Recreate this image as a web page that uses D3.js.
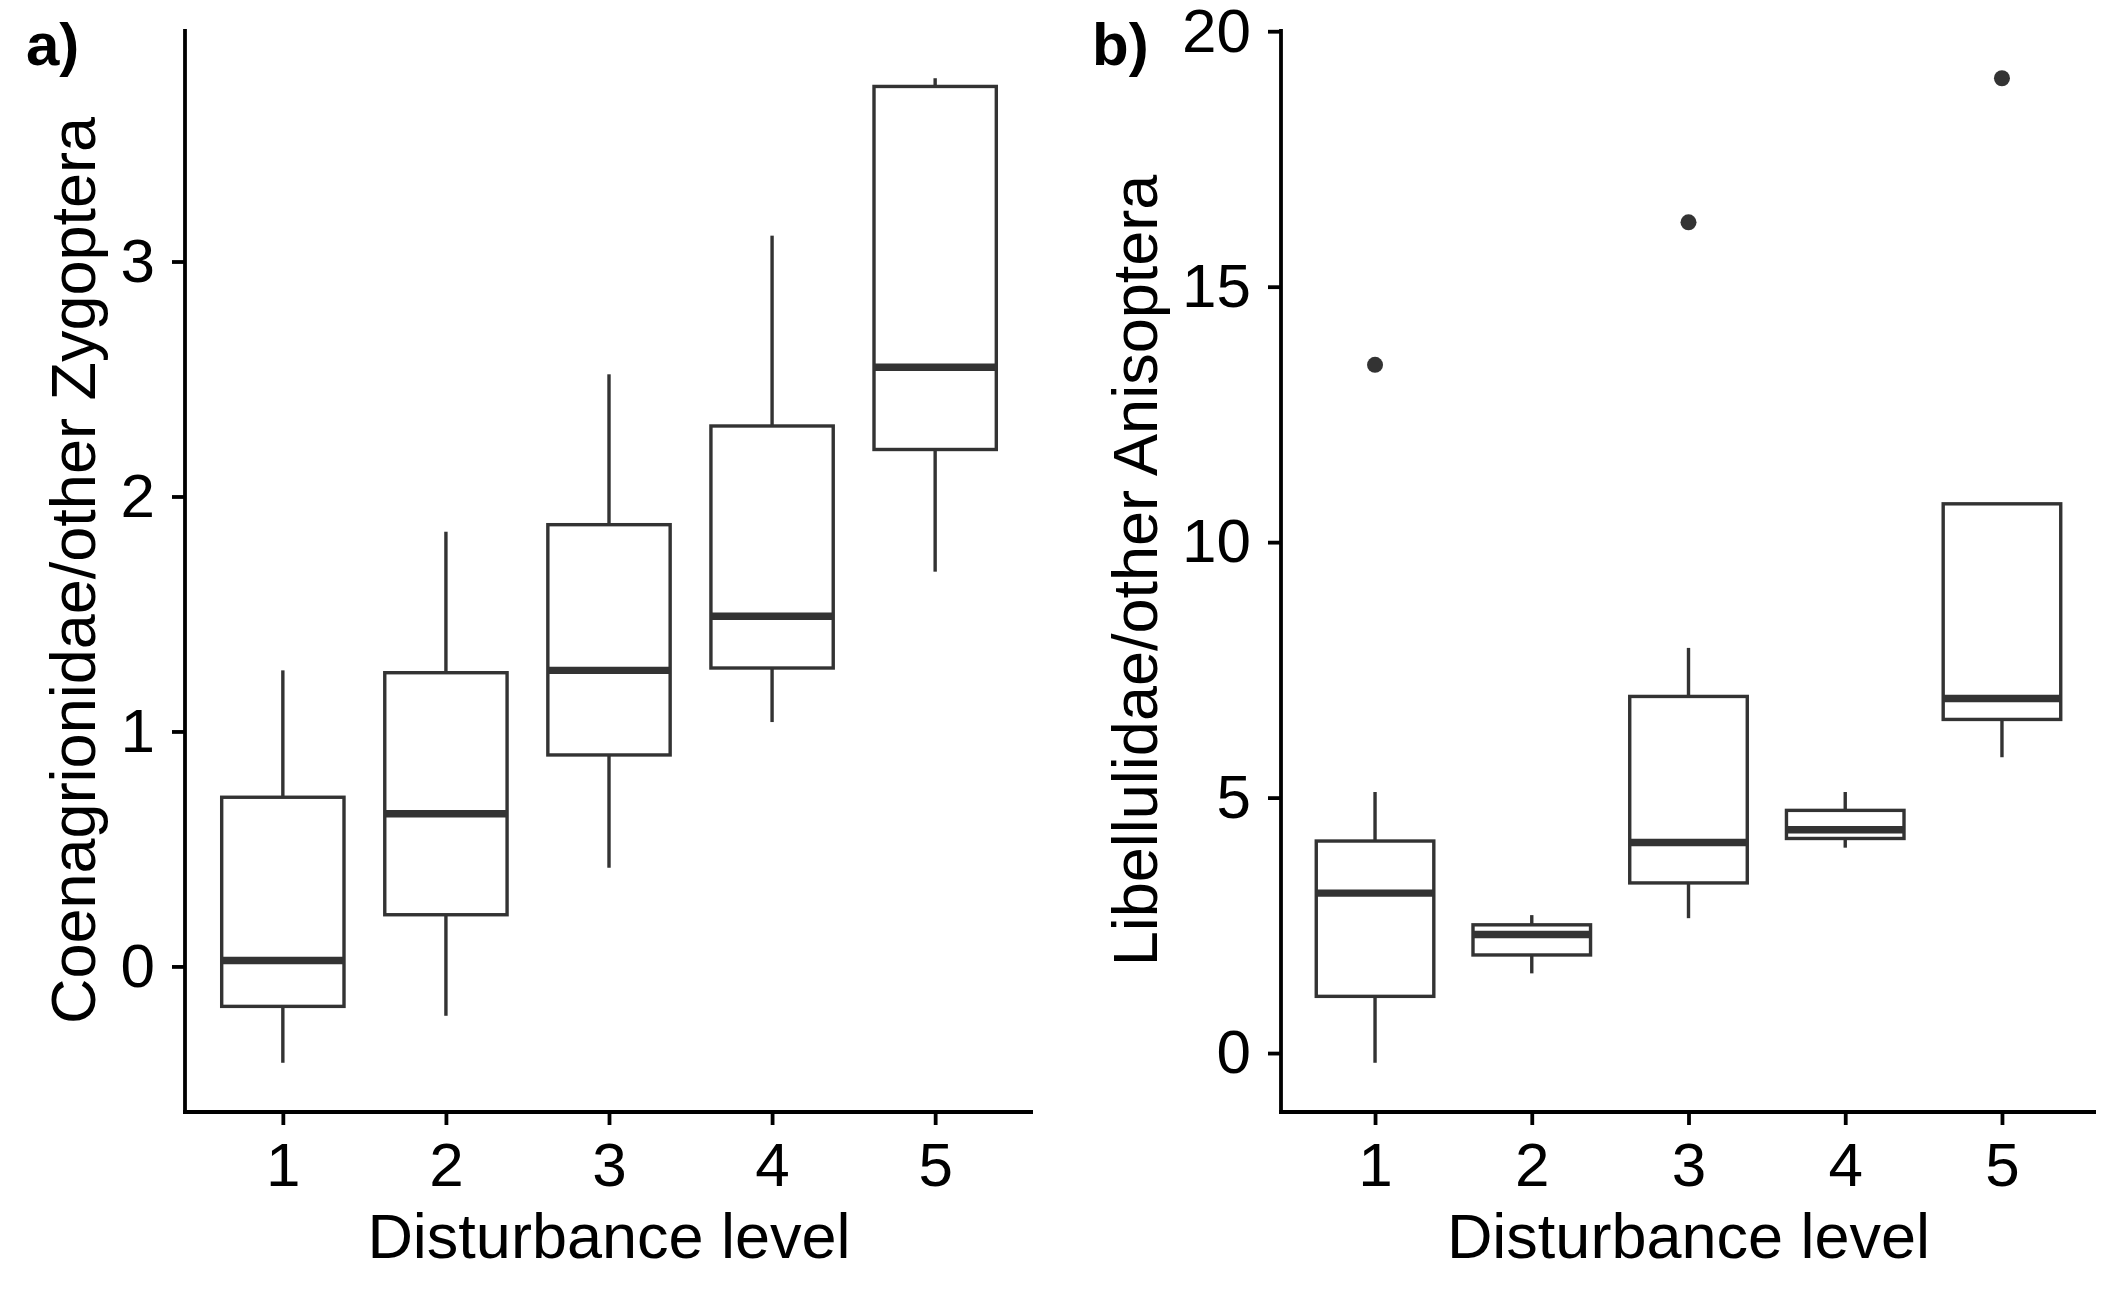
<!DOCTYPE html>
<html>
<head>
<meta charset="utf-8">
<script src="https://cdn.jsdelivr.net/npm/d3@7"></script>
<style>
  body { margin: 0; background: #fff; }
  text { font-family: "Liberation Sans", Arial, sans-serif; }
</style>
</head>
<body>
<svg id="chart" width="2125" height="1299"></svg>
<script>
// categories shared by both panels
const levels = ["1", "2", "3", "4", "5"];

// panel a) Coenagrionidae/other Zygoptera
const aLow    = [-0.41, -0.21, 0.42, 1.04, 1.68];
const aQ1     = [-0.17, 0.22, 0.90, 1.27, 2.20];
const aMedian = [0.025, 0.65, 1.26, 1.49, 2.55];
const aQ3     = [0.72, 1.25, 1.88, 2.30, 3.745];
const aHigh   = [1.26, 1.85, 2.52, 3.11, 3.78];
const aOut    = [];
const aTicks  = [0, 1, 2, 3];

// panel b) Libellulidae/other Anisoptera
const bLow    = [-0.19, 1.56, 2.64, 4.02, 5.79];
const bQ1     = [1.11, 1.92, 3.33, 4.20, 6.53];
const bMedian = [3.13, 2.32, 4.12, 4.37, 6.94];
const bQ3     = [4.15, 2.51, 6.98, 4.75, 10.75];
const bHigh   = [5.11, 2.70, 7.93, 5.11, 10.75];
const bOut    = [["1", 13.47], ["3", 16.26], ["5", 19.08]];
const bTicks  = [0, 5, 10, 15, 20];

const svg = d3.select('#chart');
svg.append('rect').attr('width', 2125).attr('height', 1299).attr('fill', '#fff');

const boxColour = '#333333';
const boxWidth = 3.4;   // outline and whiskers
const medWidth = 7.4;   // median bar (fattened)
const axisWidth = 3.8;

// draws one ggplot-style boxplot panel
const drawPanel = (p) => {
    const rows = levels.map((k, i) => ({
        key: k, lo: p.low[i], q1: p.q1[i], med: p.median[i], q3: p.q3[i], hi: p.high[i]
    }));

    const x = d3.scalePoint()
                .domain(levels)
                .range([p.left, p.right])
                .padding(0.6);

    // ggplot-like 5% expansion around the data
    const all = p.low.concat(p.high, p.out.map(d => d[1]));
    const ext = d3.extent(all);
    const pad = (ext[1] - ext[0]) * 0.05;
    const y = d3.scaleLinear()
                .domain([ext[0] - pad, ext[1] + pad])
                .range([p.bottom, p.top]);

    const bw = x.step() * 0.75;
    const g = svg.append('g');

    // whiskers
    g.selectAll('line.up').data(rows).enter().append('line')
        .attr('x1', d => x(d.key)).attr('x2', d => x(d.key))
        .attr('y1', d => y(d.hi)).attr('y2', d => y(d.q3))
        .attr('stroke', boxColour).attr('stroke-width', boxWidth);
    g.selectAll('line.down').data(rows).enter().append('line')
        .attr('x1', d => x(d.key)).attr('x2', d => x(d.key))
        .attr('y1', d => y(d.q1)).attr('y2', d => y(d.lo))
        .attr('stroke', boxColour).attr('stroke-width', boxWidth);

    // boxes
    g.selectAll('rect.box').data(rows).enter().append('rect')
        .attr('x', d => x(d.key) - bw / 2)
        .attr('y', d => y(d.q3))
        .attr('width', bw)
        .attr('height', d => y(d.q1) - y(d.q3))
        .attr('fill', '#fff')
        .attr('stroke', boxColour)
        .attr('stroke-width', boxWidth);

    // medians
    g.selectAll('line.med').data(rows).enter().append('line')
        .attr('x1', d => x(d.key) - bw / 2).attr('x2', d => x(d.key) + bw / 2)
        .attr('y1', d => y(d.med)).attr('y2', d => y(d.med))
        .attr('stroke', boxColour).attr('stroke-width', medWidth);

    // outliers
    g.selectAll('circle').data(p.out).enter().append('circle')
        .attr('cx', d => x(d[0]))
        .attr('cy', d => y(d[1]))
        .attr('r', 8)
        .attr('fill', boxColour);

    // axes
    const xAxis = svg.append('g')
        .attr('transform', `translate(0,${p.bottom})`)
        .call(d3.axisBottom(x).tickSize(13).tickPadding(17).tickSizeOuter(0));
    const yAxis = svg.append('g')
        .attr('transform', `translate(${p.left},0)`)
        .call(d3.axisLeft(y).tickValues(p.ticks).tickFormat(d3.format('d'))
                .tickSize(13).tickPadding(17).tickSizeOuter(0));

    [xAxis, yAxis].forEach(ax => {
        ax.select('.domain').attr('stroke', '#000').attr('stroke-width', axisWidth);
        ax.selectAll('.tick line').attr('stroke', '#000').attr('stroke-width', axisWidth);
        ax.selectAll('.tick text')
            .attr('fill', '#000')
            .style('font-size', '62px')
            .style('font-family', '"Liberation Sans", Arial, sans-serif');
    });
    // extend axis lines to meet at the corner
    xAxis.select('.domain').attr('d', `M${p.left - axisWidth / 2},0H${p.right}`);
    yAxis.select('.domain').attr('d', `M0,${p.top}V${p.bottom + axisWidth / 2}`);

    // axis titles
    svg.append('text')
        .attr('x', (p.left + p.right) / 2)
        .attr('y', 1258)
        .attr('text-anchor', 'middle')
        .style('font-size', '63px')
        .text('Disturbance level');

    svg.append('text')
        .attr('transform', `translate(${p.titleX},${(p.top + p.bottom) / 2}) rotate(-90)`)
        .attr('text-anchor', 'middle')
        .style('font-size', '63px')
        .text(p.yTitle);

    // panel tag
    svg.append('text')
        .attr('x', p.tagX)
        .attr('y', 65)
        .style('font-size', '60px')
        .style('font-weight', 'bold')
        .text(p.tag);
};

drawPanel({
    low: aLow, q1: aQ1, median: aMedian, q3: aQ3, high: aHigh, out: aOut, ticks: aTicks,
    left: 185, right: 1033, top: 29, bottom: 1112,
    titleX: 95, yTitle: 'Coenagrionidae/other Zygoptera', tag: 'a)', tagX: 26
});

drawPanel({
    low: bLow, q1: bQ1, median: bMedian, q3: bQ3, high: bHigh, out: bOut, ticks: bTicks,
    left: 1281, right: 2096, top: 29, bottom: 1112,
    titleX: 1157, yTitle: 'Libellulidae/other Anisoptera', tag: 'b)', tagX: 1092
});
</script>
</body>
</html>
